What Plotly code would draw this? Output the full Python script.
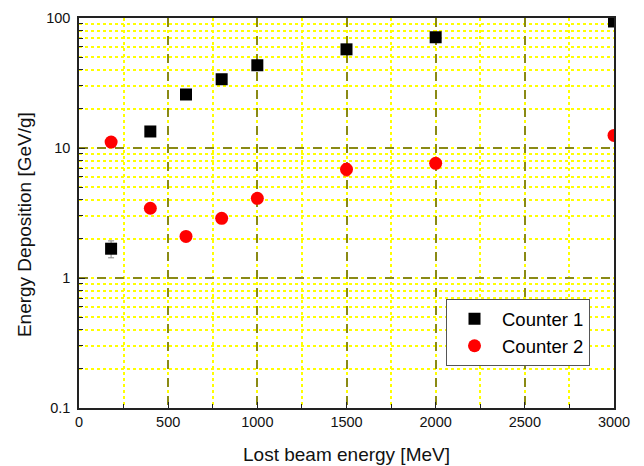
import plotly.graph_objects as go

energy = [180, 400, 600, 800, 1000, 1500, 2000, 3000]
counter1 = [1.68, 13.4, 25.8, 33.8, 43.3, 57.4, 71.1, 94.0]
counter1_err = [0.25, 0, 0, 0, 0, 0, 0, 0]
counter2 = [11.1, 3.44, 2.09, 2.88, 4.10, 6.86, 7.62, 12.5]
counter2_err = [0, 0, 0, 0, 0, 0.75, 0, 0]

x_ticks = [0, 500, 1000, 1500, 2000, 2500, 3000]
y_ticks = [0.1, 1, 10, 100]
y_ticktext = ["0.1", "1", "10", "100"]

font = "Liberation Sans, Arial, sans-serif"

fig = go.Figure()
fig.add_trace(go.Scatter(
    x=energy, y=counter1, mode="markers", name="Counter 1",
    marker=dict(symbol="square", size=12, color="black"),
    error_y=dict(type="data", array=counter1_err, color="#888888", thickness=1, width=3),
))
fig.add_trace(go.Scatter(
    x=energy, y=counter2, mode="markers", name="Counter 2",
    marker=dict(symbol="circle", size=13, color="#ff0000"),
    error_y=dict(type="data", array=counter2_err, color="#ff0000", thickness=1, width=3),
))

# page body has an 8px default margin, so the figure is sized 636x458
fig.update_layout(
    width=636, height=458,
    margin=dict(l=71, r=30, t=10, b=58, autoexpand=False),
    paper_bgcolor="white", plot_bgcolor="white",
    font=dict(family=font, color="#111111"),
    legend=dict(
        x=0.686, y=0.279, xanchor="left", yanchor="top",
        bgcolor="white", bordercolor="#555555", borderwidth=1,
        font=dict(size=18.5, family=font, color="black"),
        itemwidth=45, tracegroupgap=0,
    ),
    showlegend=True,
    annotations=[dict(
        text="Energy Deposition [GeV/g]", textangle=-90,
        xref="paper", yref="paper", x=-0.1016, y=0.4706,
        xanchor="center", yanchor="middle", showarrow=False,
        font=dict(size=19, family=font, color="#111111"),
    )],
)

fig.update_xaxes(
    range=[0, 3000], tickvals=x_ticks, automargin=False,
    showline=True, linecolor="#222222", linewidth=1.5, mirror=True,
    ticks="inside", ticklen=6, tickcolor="#222222",
    showgrid=True, gridcolor="#8a8a14", griddash="dash", gridwidth=2,
    zeroline=False,
    tickfont=dict(size=14.5, family=font),
    title=dict(text="Lost beam energy [MeV]", font=dict(size=19, family=font), standoff=19),
    minor=dict(dtick=250, ticks="inside", ticklen=4, tickcolor="#222222",
               showgrid=True, gridcolor="#ffff00", griddash="dot", gridwidth=1.5),
)
fig.update_yaxes(
    type="log", range=[-1, 2], tickvals=y_ticks, ticktext=y_ticktext, automargin=False,
    showline=True, linecolor="#222222", linewidth=1.5, mirror=True,
    ticks="inside", ticklen=6, tickcolor="#222222",
    showgrid=True, gridcolor="#8a8a14", griddash="dash", gridwidth=2,
    zeroline=False,
    tickfont=dict(size=14.5, family=font),
    ticklabelstandoff=4,
    minor=dict(dtick="D1", ticks="inside", ticklen=4, tickcolor="#222222",
               showgrid=True, gridcolor="#ffff00", griddash="dot", gridwidth=1.5),
)

fig.write_html("out.html")
